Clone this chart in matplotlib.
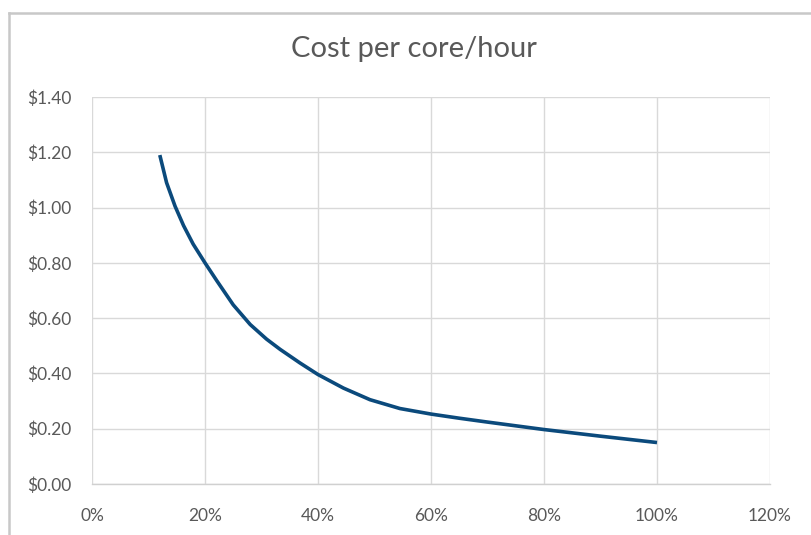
import matplotlib.pyplot as plt
from matplotlib.lines import Line2D
from matplotlib.ticker import FuncFormatter, MultipleLocator

# utilisation (%) and cost per core/hour ($)
util = [12, 13.2, 14.7, 16.2, 17.9, 20, 22.1, 25, 28, 30.9, 33.3, 36.8, 40,
        44.5, 49.2, 54.5, 60, 65, 70, 80, 90, 100]
cost = [1.19, 1.09, 1.005, 0.935, 0.868, 0.80, 0.735, 0.648, 0.577, 0.524, 0.487,
        0.438, 0.396, 0.347, 0.305, 0.273, 0.253, 0.238, 0.224, 0.197, 0.173, 0.150]

title = "Cost per core/hour"

plt.rcParams['font.family'] = ['Lato', 'DejaVu Sans']

fig = plt.figure(figsize=(8.12, 5.35), dpi=100)
ax = fig.add_axes([92 / 812, 51 / 535, 678 / 812, 387 / 535])

ax.plot(util, cost, color="#0b4a7c", lw=2.6, solid_capstyle="butt",
        solid_joinstyle="round")

ax.set_xlim(0, 120)
ax.set_ylim(0, 1.4)
ax.xaxis.set_major_locator(MultipleLocator(20))
ax.yaxis.set_major_locator(MultipleLocator(0.2))
ax.xaxis.set_major_formatter(FuncFormatter(lambda v, p: "%d%%" % round(v)))
ax.yaxis.set_major_formatter(FuncFormatter(lambda v, p: "$%.2f" % v))

ax.grid(True, color="#d9d9d9", lw=1.0)
ax.set_axisbelow(True)
for s in ["top", "right", "left"]:
    ax.spines[s].set_visible(False)
ax.spines["bottom"].set_color("#d0d0d0")
ax.spines["bottom"].set_linewidth(1.0)

ax.tick_params(length=0, labelsize=12.5, colors="#595959")
ax.tick_params(axis="x", pad=17)
ax.tick_params(axis="y", pad=15)

fig.text(414 / 812, 1 - 49 / 535, title, ha="center", va="center",
         fontsize=21, color="#595959")

# chart frame edge
fig.add_artist(Line2D([9 / 812, 9 / 812], [0, 1 - 13 / 535], color="#c8c8c8", lw=1.8))
fig.add_artist(Line2D([9 / 812, 1], [1 - 13 / 535, 1 - 13 / 535], color="#c8c8c8", lw=1.8))

fig.savefig("out.png", dpi=100, facecolor="white")
